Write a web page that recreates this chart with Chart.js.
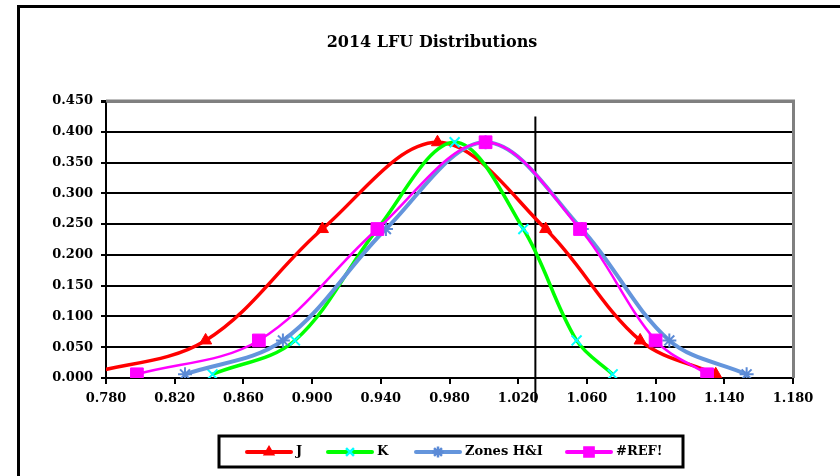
<!DOCTYPE html>
<html><head><meta charset="utf-8">
<script src="https://cdn.jsdelivr.net/npm/chart.js@4/dist/chart.umd.min.js"></script>
<style>html,body{margin:0;padding:0;background:#fff;}#wrap{width:840px;height:476px;position:relative;}</style>
</head><body><div id="wrap"><canvas id="c" width="840" height="476"></canvas></div>
<script>
const chartTitle = '2014 LFU Distributions';
const seriesNames = ['J', 'K', 'Zones H&I', '#REF!'];
const jX = [0.768, 0.838, 0.906, 0.973, 1.036, 1.091, 1.135];
const jY = [0.006, 0.061, 0.242, 0.383, 0.242, 0.061, 0.006];
const kX = [0.842, 0.890, 0.938, 0.983, 1.023, 1.054, 1.075];
const kY = [0.006, 0.061, 0.242, 0.383, 0.242, 0.061, 0.006];
const zX = [0.826, 0.883, 0.943, 1.001, 1.057, 1.108, 1.153];
const zY = [0.006, 0.061, 0.242, 0.383, 0.242, 0.061, 0.006];
const rX = [0.798, 0.869, 0.938, 1.001, 1.056, 1.100, 1.130];
const rY = [0.006, 0.061, 0.242, 0.383, 0.242, 0.061, 0.006];
const refLineX = [1.030, 1.030];
const refLineY = [0.425, -0.040];
const xTickValues = [0.78, 0.82, 0.86, 0.90, 0.94, 0.98, 1.02, 1.06, 1.10, 1.14, 1.18];
const yTickValues = [0, 0.05, 0.10, 0.15, 0.20, 0.25, 0.30, 0.35, 0.40, 0.45];

const pts = (xs, ys) => xs.map((x, i) => ({x: x, y: ys[i]}));
const FONT = 'DejaVu Serif';

const datasets = [
  {label: seriesNames[0], data: pts(jX, jY), showLine: true, borderColor: '#ff0000', borderWidth: 3.5,
   pointStyle: 'triangle', pointRadius: 7, pointBackgroundColor: '#ff0000', pointBorderColor: '#ff0000', pointBorderWidth: 1, tension: 0.35, order: 4},
  {label: seriesNames[1], data: pts(kX, kY), showLine: true, borderColor: '#00ff00', borderWidth: 3.5,
   pointStyle: 'crossRot', pointRadius: 7, pointBackgroundColor: '#00ffff', pointBorderColor: '#00ffff', pointBorderWidth: 2, tension: 0.35, order: 3},
  {label: seriesNames[2], data: pts(zX, zY), showLine: true, borderColor: '#6495dc', borderWidth: 4,
   pointStyle: 'star', pointRadius: 7, pointBackgroundColor: '#5b8ad6', pointBorderColor: '#5b8ad6', pointBorderWidth: 2, tension: 0.35, order: 2},
  {label: seriesNames[3], data: pts(rX, rY), showLine: true, borderColor: '#ff00ff', borderWidth: 2.5,
   pointStyle: 'rect', pointRadius: 9, pointBackgroundColor: '#ff00ff', pointBorderColor: '#ff00ff', pointBorderWidth: 1, tension: 0.35, order: 1},
  {label: '', data: pts(refLineX, refLineY), showLine: true, borderColor: '#000', borderWidth: 2,
   pointRadius: 0, tension: 0, clip: false, order: 5}
];

const decor = {
  id: 'decor',
  beforeDraw(chart) {
    const ctx = chart.ctx;
    ctx.save();
    ctx.fillStyle = '#fff';
    ctx.fillRect(0, 0, chart.width, chart.height);
    ctx.strokeStyle = '#000';
    ctx.lineWidth = 3;
    ctx.strokeRect(18.5, 6.5, chart.width + 20, chart.height + 20);
    ctx.restore();
  },
  beforeDatasetsDraw(chart) {
    const ctx = chart.ctx, a = chart.chartArea;
    ctx.save();
    ctx.strokeStyle = '#808080';
    ctx.lineWidth = 3;
    ctx.beginPath();
    ctx.moveTo(a.left, a.top);
    ctx.lineTo(a.right + 0.5, a.top);
    ctx.lineTo(a.right + 0.5, a.bottom);
    ctx.stroke();
    ctx.restore();
  },
  afterDraw(chart) {
    const ctx = chart.ctx;
    ctx.save();
    // title
    ctx.fillStyle = '#000';
    ctx.font = 'bold 16px "' + FONT + '"';
    ctx.textAlign = 'center';
    ctx.textBaseline = 'middle';
    ctx.fillText(chartTitle, 432, 43);
    // legend box
    const bx = 219, by = 436, bw = 464, bh = 31;
    ctx.fillStyle = '#fff';
    ctx.fillRect(bx, by, bw, bh);
    ctx.strokeStyle = '#000';
    ctx.lineWidth = 3;
    ctx.strokeRect(bx, by, bw, bh);
    const starts = [247, 328, 416, 567];
    const cy = 452;
    ctx.font = 'bold 13px "' + FONT + '"';
    ctx.textAlign = 'left';
    for (let i = 0; i < 4; i++) {
      const ds = chart.data.datasets[i];
      const x0 = starts[i];
      ctx.strokeStyle = ds.borderColor;
      ctx.lineWidth = 4;
      ctx.lineCap = 'round';
      ctx.beginPath();
      ctx.moveTo(x0, cy);
      ctx.lineTo(x0 + 44, cy);
      ctx.stroke();
      ctx.lineCap = 'butt';
      ctx.fillStyle = ds.pointBackgroundColor;
      ctx.strokeStyle = ds.pointBorderColor;
      ctx.lineWidth = ds.pointBorderWidth + 0.5;
      Chart.helpers.drawPoint(ctx, {pointStyle: ds.pointStyle, radius: ds.pointRadius * 0.8, rotation: 0, borderWidth: ds.pointBorderWidth}, x0 + 22, cy);
      ctx.fillStyle = '#000';
      ctx.fillText(ds.label, x0 + 49, cy);
    }
    ctx.restore();
  }
};

const tickFont = {family: FONT, weight: 'bold', size: 13};

new Chart(document.getElementById('c'), {
  type: 'scatter',
  data: {datasets: datasets},
  plugins: [decor],
  options: {
    responsive: false,
    animation: false,
    devicePixelRatio: 1,
    layout: {padding: {left: 0, right: 47, top: 101, bottom: 0}},
    plugins: {legend: {display: false}, title: {display: false}, tooltip: {enabled: false}},
    scales: {
      x: {
        type: 'linear', min: xTickValues[0], max: xTickValues[xTickValues.length - 1],
        afterBuildTicks: s => { s.ticks = xTickValues.map(v => ({value: v})); },
        afterFit: s => { s.height = 98; },
        grid: {drawOnChartArea: false, drawTicks: true, tickLength: 6, color: '#000', lineWidth: 2},
        border: {color: '#000', width: 2},
        ticks: {color: '#000', font: tickFont, padding: 7, maxRotation: 0, autoSkip: false,
                callback: v => Number(v).toFixed(3)}
      },
      y: {
        type: 'linear', min: yTickValues[0], max: yTickValues[yTickValues.length - 1],
        afterBuildTicks: s => { s.ticks = yTickValues.map(v => ({value: v})); },
        afterFit: s => { s.width = 106; },
        grid: {color: c => (c.tick && c.tick.value > 0.449) ? '#808080' : '#000',
               lineWidth: c => (c.tick && c.tick.value > 0.449) ? 3 : 2,
               tickColor: '#000', tickLength: 5, drawTicks: true},
        border: {color: '#000', width: 2},
        ticks: {color: '#000', font: tickFont, padding: 8, autoSkip: false,
                callback: v => Number(v).toFixed(3)}
      }
    }
  }
});
</script>
</body></html>
